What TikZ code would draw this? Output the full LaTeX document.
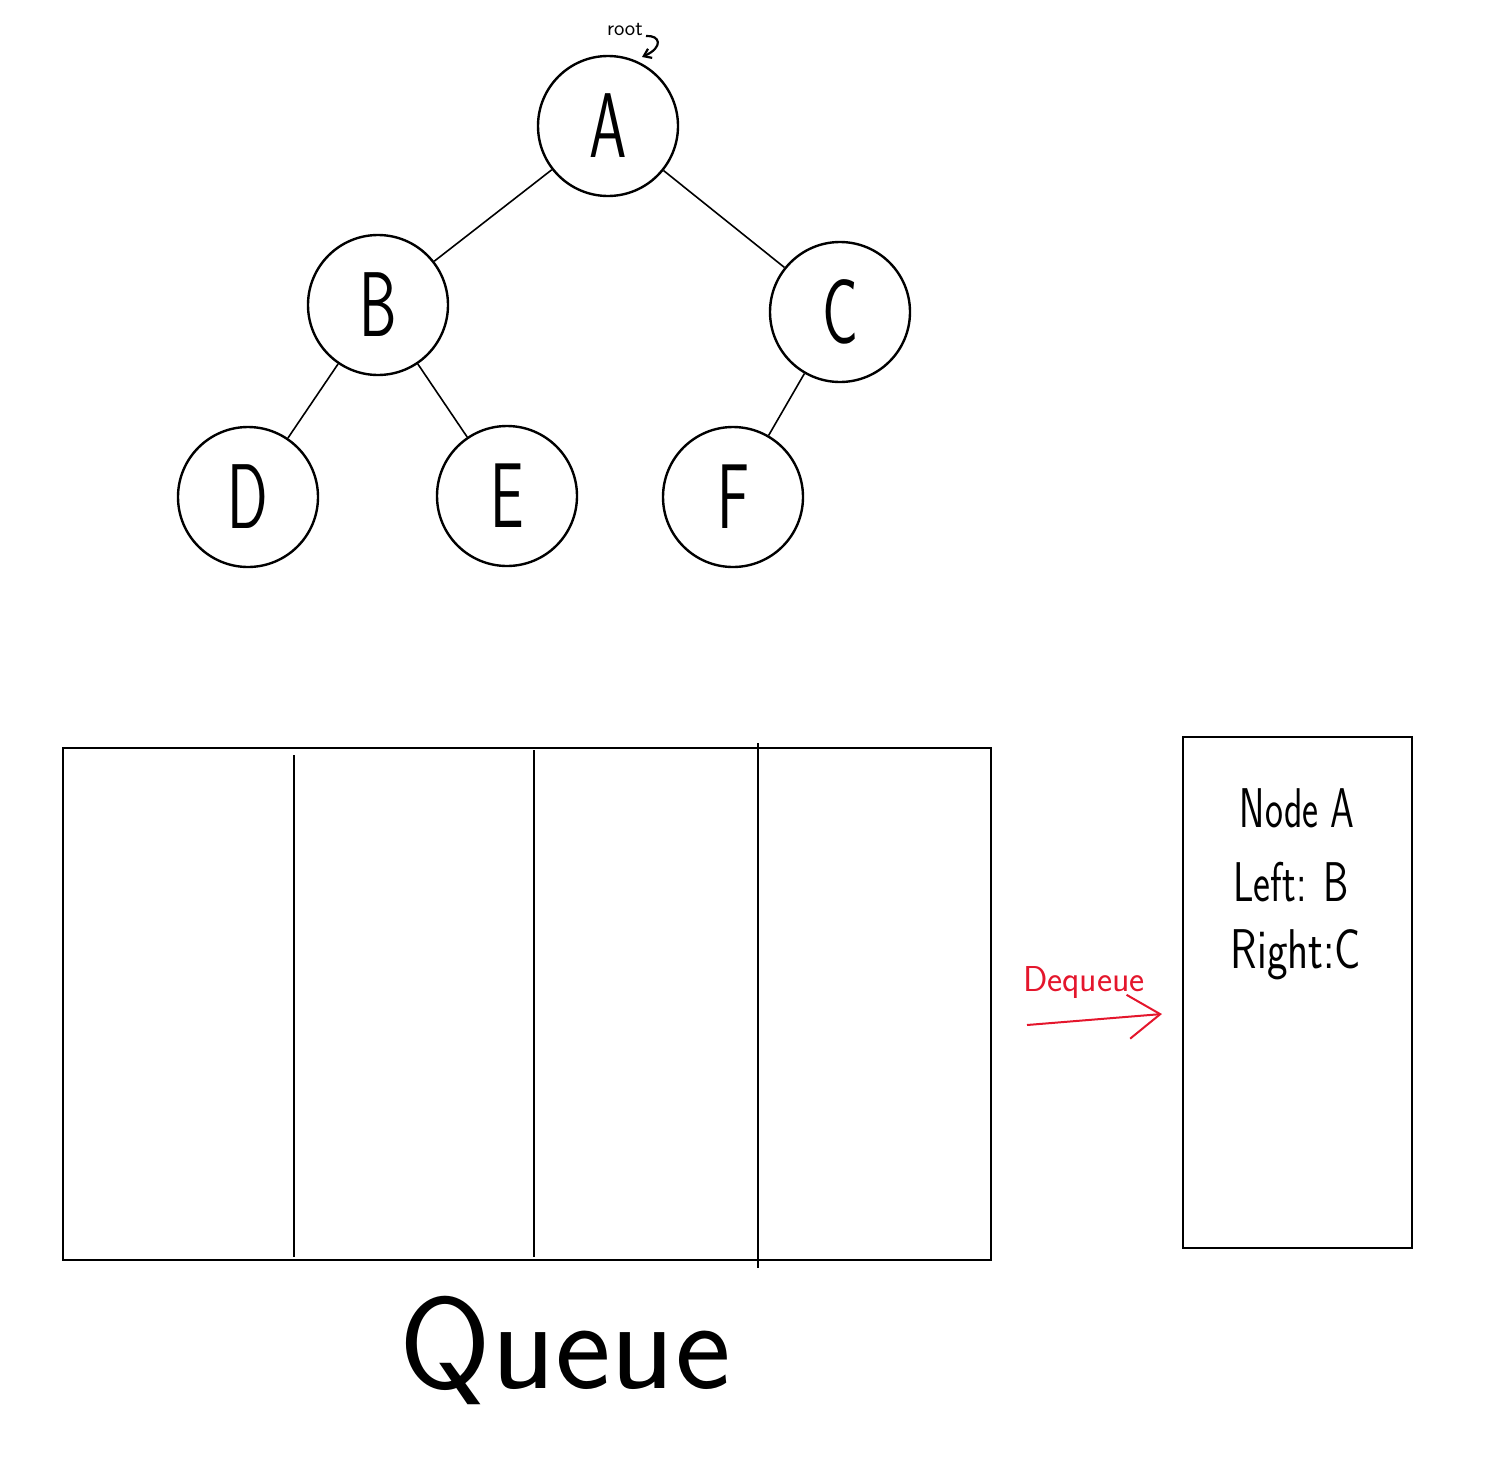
\documentclass[tikz,border=0pt]{standalone}
\usepackage{graphicx}
\usetikzlibrary{arrows.meta}
\definecolor{inkred}{RGB}{228,22,44}
\begin{document}
\begin{tikzpicture}[x=1pt,y=-1pt,
  treenode/.style={circle,draw,line width=2.4pt,minimum size=140pt,inner sep=0pt,
    font=\sffamily\fontsize{92}{96}\selectfont},
  edge/.style={line width=1.6pt},
  frame/.style={draw,line width=2.2pt},
  hand/.style={font=\sffamily\fontsize{#1}{#1}\selectfont,inner sep=0pt}
]
\useasboundingbox (0,0) rectangle (1499,1459);

% binary tree
\node[treenode] (a) at (608,126) {\scalebox{0.65}[1]{A}};
\node[treenode] (b) at (378,305) {\scalebox{0.65}[1]{B}};
\node[treenode] (c) at (840,312) {\scalebox{0.65}[1]{C}};
\node[treenode] (d) at (248,497) {\scalebox{0.65}[1]{D}};
\node[treenode] (e) at (507,496) {\scalebox{0.65}[1]{E}};
\node[treenode] (f) at (733,497) {\scalebox{0.65}[1]{F}};
\draw[edge] (a) -- (b);
\draw[edge] (a) -- (c);
\draw[edge] (b) -- (d);
\draw[edge] (b) -- (e);
\draw[edge] (c) -- (f);

% root pointer
\node[hand=22,anchor=east] (root) at (643,30) {root};
\coordinate (rs) at (646,36);
\coordinate (re) at (642,57);
\draw[line width=2.2pt,-{Straight Barb[length=7pt,width=10pt]}] (rs) .. controls (660,35) and (664,47) .. (re);

% queue with four slots
\node[frame,minimum width=928pt,minimum height=512pt,anchor=north west,inner sep=0pt] (q) at (62,747) {};
\coordinate (s1t) at (294,755); \coordinate (s1b) at (294,1257);
\coordinate (s2t) at (534,750); \coordinate (s2b) at (534,1257);
\coordinate (s3t) at (758,743); \coordinate (s3b) at (758,1268);
\draw[edge] (s1t) -- (s1b);
\draw[edge] (s2t) -- (s2b);
\draw[edge] (s3t) -- (s3b);
\node[hand=130] (qlabel) at (565,1350) {\scalebox{1.02}[1]{Queue}};

% dequeued node
\node[frame,minimum width=229pt,minimum height=511pt,anchor=north west,inner sep=0pt] (box) at (1182,736) {};
\node[hand=56] (t1) at (1297,808) {\scalebox{0.68}[1]{Node A}};
\node[hand=56] (t2) at (1291,882) {\scalebox{0.72}[1]{Left: B}};
\node[hand=56] (t3) at (1296,955) {\scalebox{0.78}[1]{Right:C}};

% dequeue arrow
\node[hand=36,text=inkred] (dq) at (1084,983) {Dequeue};
\coordinate (as) at (1027,1025);
\coordinate (ae) at (1162,1014);
\draw[inkred,line width=2pt,-{Straight Barb[length=32pt,width=44pt]}] (as) -- (ae);
\end{tikzpicture}
\end{document}
